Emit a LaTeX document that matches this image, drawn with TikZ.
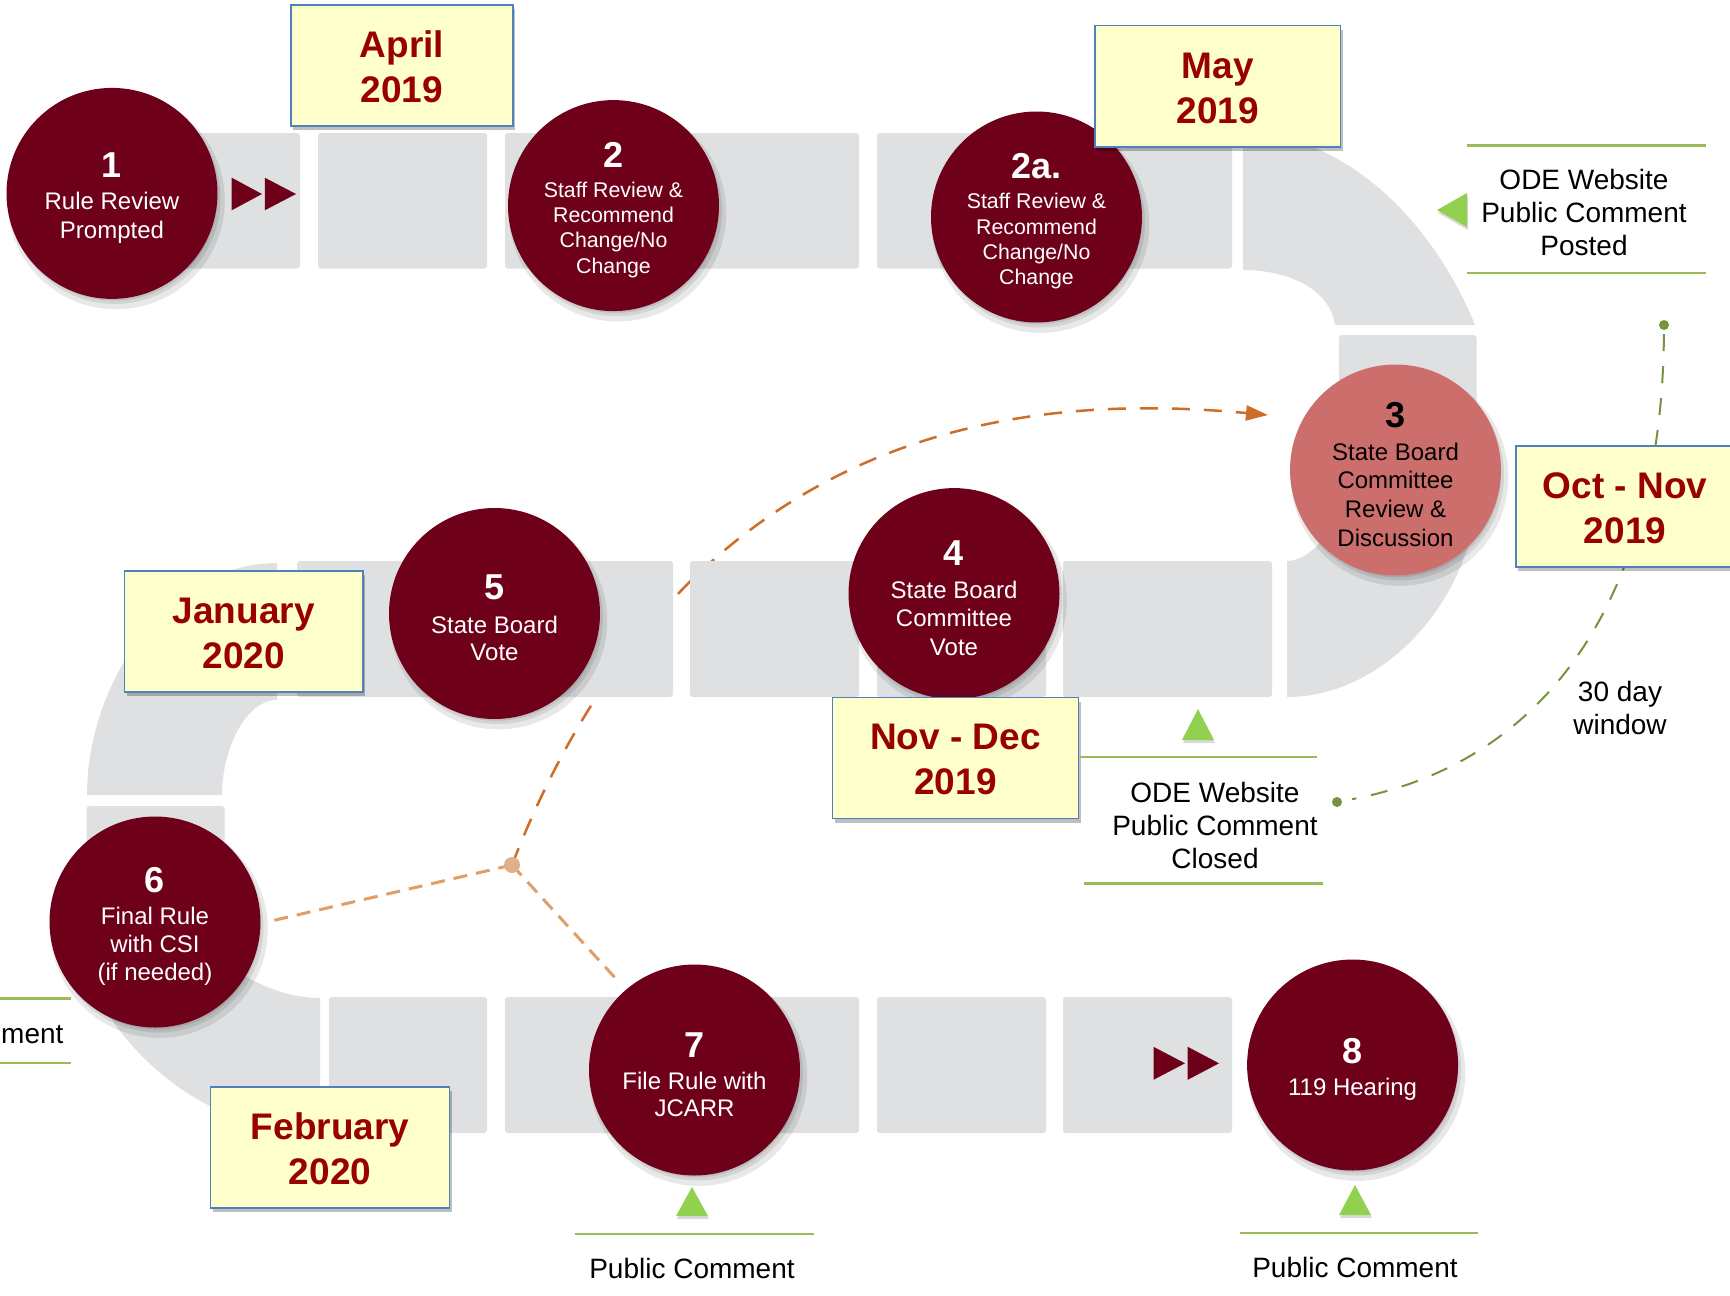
\documentclass[tikz,border=0pt]{standalone}
\usepackage{fontspec}
\setmainfont{Liberation Sans}
\usetikzlibrary{arrows.meta,shadows}
\definecolor{maroon}{RGB}{110,0,26}
\definecolor{salmon}{RGB}{204,111,108}
\definecolor{tilegray}{RGB}{223,224,226}
\definecolor{boxfill}{RGB}{255,255,204}
\definecolor{boxblue}{RGB}{79,129,189}
\definecolor{datered}{RGB}{153,0,0}
\definecolor{gtri}{RGB}{146,208,80}
\definecolor{gline}{RGB}{155,187,89}
\definecolor{gdash}{RGB}{119,147,60}
\definecolor{orarrow}{RGB}{205,110,40}
\definecolor{orlight}{RGB}{226,158,100}
\definecolor{ordot}{RGB}{226,176,136}
\newcommand{\cnum}[1]{{\fontsize{36}{36}\selectfont\bfseries\rule{0pt}{34pt}#1}}
\newcommand{\dstrut}{\rule{0pt}{29pt}}
\begin{document}
\begin{tikzpicture}[x=1pt,y=-1pt,
  tile/.style={fill=tilegray, rounded corners=3pt},
  bendpiece/.style={fill=tilegray},
  circshadow/.style={
    general shadow={fill=black, opacity=0.09, shadow xshift=4pt, shadow yshift=-7pt, shadow scale=1.03},
    general shadow={fill=black, opacity=0.09, shadow xshift=3pt, shadow yshift=-5pt, shadow scale=1.0},
    general shadow={fill=black, opacity=0.09, shadow xshift=2pt, shadow yshift=-4pt, shadow scale=0.98}},
  stepcirc/.style={circle, fill=maroon, text=white, minimum size=211pt, inner sep=0pt,
    align=center, circshadow},
  datebox/.style={draw=boxblue, line width=1.5pt, fill=boxfill, text=datered,
    font=\fontsize{37}{45}\selectfont\bfseries, align=center, inner sep=0pt,
    general shadow={fill=black, opacity=0.25, shadow xshift=2pt, shadow yshift=-4pt}},
  lbl/.style={font=\fontsize{28}{33}\selectfont, align=center, inner sep=0pt},
  gl/.style={draw=gline, line width=2.2pt},
  gt/.style={fill=gtri, general shadow={fill=black, opacity=0.15, shadow xshift=1pt, shadow yshift=-3pt}},
  ff/.style={fill=maroon}
]
\fill[white] (0,0) rectangle (1730,1296);
\path[use as bounding box] (0,0) rectangle (1730,1296);
\clip (0,0) rectangle (1730,1296);

% orange curve (behind tiles)
\coordinate (odc) at (512,865);
\coordinate (arrtip) at (1268,415);
\draw[orarrow, line width=2.5pt, dash pattern=on 18pt off 14pt, -{Triangle[length=22pt,width=15pt]}]
  (odc) .. controls (690,405) and (1050,395) .. (arrtip);

% tiles row 1
\fill[tile] (130,133) rectangle (300,268.5);
\fill[tile] (318,133) rectangle (487,268.5);
\fill[tile] (505,133) rectangle (673,268.5);
\fill[tile] (690,133) rectangle (859,268.5);
\fill[tile] (877,133) rectangle (1046,268.5);
\fill[tile] (1063,133) rectangle (1232,268.5);
% row 2
\fill[tile] (297,561) rectangle (480,697);
\fill[tile] (497,561) rectangle (673,697);
\fill[tile] (690,561) rectangle (859,697);
\fill[tile] (877,561) rectangle (1046,697);
\fill[tile] (1063,561) rectangle (1272,697);
% row 3
\fill[tile] (329,997) rectangle (487,1133);
\fill[tile] (505,997) rectangle (673,1133);
\fill[tile] (690,997) rectangle (859,1133);
\fill[tile] (877,997) rectangle (1046,1133);
\fill[tile] (1063,997) rectangle (1232,1133);
% vertical tiles
\fill[tile] (1339,335) rectangle (1476.5,481);
\fill[tile] (86.6,806) rectangle (224.5,946);
% bends
\fill[bendpiece] (1243,133) .. controls (1340,133) and (1430,215) .. (1475,325)
  -- (1335,325) .. controls (1330,290) and (1290,270) .. (1243,270) -- cycle;
\fill[bendpiece] (1476.5,490) .. controls (1476.5,590) and (1390,697) .. (1287,697)
  -- (1287,561) .. controls (1310,561) and (1339,530) .. (1339,490) -- cycle;
\fill[bendpiece] (277,563) .. controls (170,563) and (87,680) .. (87,795)
  -- (222,795) .. controls (222,750) and (245,700) .. (277,700) -- cycle;
\fill[bendpiece] (86.6,955) .. controls (86.6,1010) and (180,1133) .. (320,1133)
  -- (320,998) .. controls (280,998) and (232,975) .. (225,955) -- cycle;

% green dashed window curve
\node[circle, fill=gdash, minimum size=10pt, inner sep=0pt] (gd1) at (1664,325) {};
\node[circle, fill=gdash, minimum size=10pt, inner sep=0pt] (gd2) at (1337,802) {};
\draw[gdash, line width=2pt, dash pattern=on 17pt off 15pt, shorten <=4pt, shorten >=10pt]
  (gd1) .. controls (1662,580) and (1560,760) .. (gd2);

% orange lines to 6 and 7
\coordinate (e6) at (269,921.5);
\coordinate (e7) at (618,981);
\draw[orlight, line width=3pt, dash pattern=on 14pt off 9pt] (odc) -- (e6);
\draw[orlight, line width=3pt, dash pattern=on 14pt off 9pt] (odc) -- (e7);
\node[circle, fill=ordot, minimum size=16pt, inner sep=0pt] (od) at (odc) {};

% circles
\node[stepcirc, font=\fontsize{24}{29}\selectfont] (c1) at (112,193.4)
  {\cnum{1}\\[3.2pt]Rule Review\\Prompted};
\node[stepcirc, font=\fontsize{21.3}{25.3}\selectfont] (c2) at (613.5,205.6)
  {\cnum{2}\\[4.4pt]Staff Review \&\\Recommend\\Change/No\\Change};
\node[stepcirc, font=\fontsize{21.3}{25.3}\selectfont] (c2a) at (1036.5,217)
  {\cnum{2a.}\\[4.9pt]Staff Review \&\\Recommend\\Change/No\\Change};
\node[stepcirc, fill=salmon, text=black, font=\fontsize{24}{28.7}\selectfont] (c3) at (1395.5,470)
  {\cnum{3}\\[3.8pt]State Board\\Committee\\Review \&\\Discussion};
\node[stepcirc, font=\fontsize{24}{28.7}\selectfont] (c4) at (954,593.6)
  {\cnum{4}\\[3.8pt]State Board\\Committee\\Vote};
\node[stepcirc, font=\fontsize{24}{27}\selectfont] (c5) at (494.5,613.5)
  {\cnum{5}\\[6.9pt]State Board\\Vote};
\node[stepcirc, font=\fontsize{24}{28.3}\selectfont] (c6) at (155,922)
  {\cnum{6}\\[3.4pt]Final Rule\\with CSI\\(if needed)};
\node[stepcirc, font=\fontsize{24}{27}\selectfont] (c7) at (694.5,1070)
  {\cnum{7}\\[4.7pt]File Rule with\\JCARR};
\node[stepcirc, font=\fontsize{24}{28.5}\selectfont] (c8) at (1352.6,1065)
  {\cnum{8}\\[3.4pt]119 Hearing};

% fast-forward marks
\fill[ff] (231.7,177.7) -- (262,194) -- (231.7,210.3) -- cycle;
\fill[ff] (264.8,177.7) -- (296,194) -- (264.8,210.3) -- cycle;
\fill[ff] (1153.5,1046.8) -- (1185,1063.3) -- (1153.5,1079.8) -- cycle;
\fill[ff] (1187.7,1046.8) -- (1219,1063.3) -- (1187.7,1079.8) -- cycle;

% date boxes
\node[datebox, minimum width=222pt, minimum height=121pt] (apr) at (402,65.5) {\dstrut April\\2019};
\node[datebox, minimum width=245.5pt, minimum height=121.4pt] (may) at (1217.8,86.3) {\dstrut May\\2019};
\node[datebox, minimum width=218pt, minimum height=121pt] (octnov) at (1625,506.5) {\dstrut Oct - Nov\\2019};
\node[datebox, minimum width=246pt, minimum height=121pt] (novdec) at (955.5,758) {\dstrut Nov - Dec\\2019};
\node[datebox, minimum width=238.4pt, minimum height=121pt] (jan) at (243.8,631.5) {\dstrut January\\2020};
\node[datebox, minimum width=238.8pt, minimum height=121pt] (feb) at (330.1,1147.5) {\dstrut February\\2020};

% green labels
\draw[gl] (1467,145.5) -- (1706,145.5);
\draw[gl] (1467,272.7) -- (1706,272.7);
\fill[gt] (1437,210) -- (1467,193) -- (1467,227) -- cycle;
\node[lbl] (posted) at (1584,212.7) {ODE Website\\Public Comment\\Posted};

\draw[gl] (1080,756.7) -- (1317,756.7);
\draw[gl] (1084,883.5) -- (1323,883.5);
\fill[gt] (1198,709) -- (1214,740) -- (1182,740) -- cycle;
\node[lbl] (closed) at (1215,825.4) {ODE Website\\Public Comment\\Closed};

\node[lbl] (window) at (1620,708.2) {30 day\\window};

\draw[gl] (575,1234) -- (814,1234);
\fill[gt] (692,1187) -- (708,1216) -- (676,1216) -- cycle;
\node[lbl, anchor=base] (pc7) at (692,1278) {Public Comment};

\draw[gl] (1239.5,1232.7) -- (1478,1232.7);
\fill[gt] (1355,1185) -- (1371,1215) -- (1339,1215) -- cycle;
\node[lbl, anchor=base] (pc8) at (1355,1277) {Public Comment};

\draw[gl] (-10,998.4) -- (70.6,998.4);
\draw[gl] (-10,1063) -- (70.6,1063);
\node[lbl, anchor=base west] (pcl) at (1,1043) {ment};
\end{tikzpicture}
\end{document}
